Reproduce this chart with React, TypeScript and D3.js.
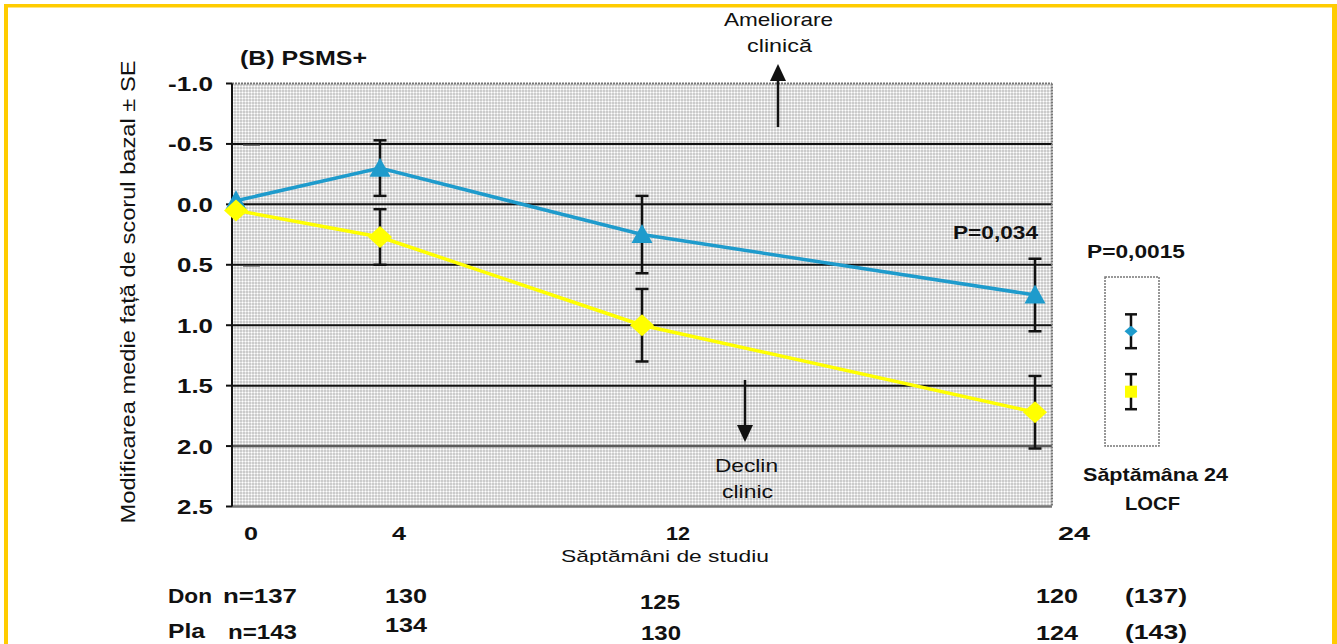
import React from "react";
import * as d3 from "d3";

// Study weeks and mean change from baseline (± SE)
const weeks = [0, 4, 12, 24];
const donMean = [-0.03, -0.3, 0.25, 0.75];
const donSE = [0, 0.23, 0.32, 0.3];
const plaMean = [0.05, 0.27, 1.0, 1.72];
const plaSE = [0, 0.23, 0.3, 0.3];

// Week 24 LOCF summary: [Don, Pla]
const locfMean = [1.05, 1.55];
const locfSE = [0.14, 0.145];

const yTicks = [-1.0, -0.5, 0.0, 0.5, 1.0, 1.5, 2.0, 2.5];
const yTickLabels = ["-1.0", "-0.5", "0.0", "0.5", "1.0", "1.5", "2.0", "2.5"];
const xTickLabels = ["0", "4", "12", "24"];
const baselineCaps = [-0.5, 0.5];

// Patients per visit
const donCounts = ["130", "125", "120"];
const plaCounts = ["134", "130", "124"];
const donLocfN = "(137)";
const plaLocfN = "(143)";

const W = 1337;
const H = 644;
const BLUE = "#1e9bcc";
const YELLOW = "#ffff00";
const FONT = "'Liberation Sans', Arial, sans-serif";

const PL = 232;
const PR = 1052;
const PT = 83.5;
const PB = 506.5;

const y = d3.scaleLinear().domain([-1, 2.5]).range([PT, PB]);
const x = d3.scaleLinear().domain([0, 4, 24]).range([236, 380, 1035]);
const xLabel = d3.scaleLinear().domain([0, 4, 12, 24]).range([251, 399, 678, 1074]);

type TProps = {
  x: number;
  y: number;
  w?: number;
  size?: number;
  bold?: boolean;
  anchor?: "start" | "middle" | "end";
  transform?: string;
  children: React.ReactNode;
};

function T({ x, y, w, size = 19, bold = false, anchor = "start", transform, children }: TProps) {
  return (
    <text
      x={x}
      y={y}
      fontFamily={FONT}
      fontSize={size}
      fontWeight={bold ? "bold" : "normal"}
      textAnchor={anchor}
      transform={transform}
      fill="#111"
      {...(w ? { textLength: w, lengthAdjust: "spacingAndGlyphs" } : {})}
    >
      {children}
    </text>
  );
}

function ErrorBar({ cx, mean, se, cap = 13 }: { cx: number; mean: number; se: number; cap?: number }) {
  const y0 = y(mean - se);
  const y1 = y(mean + se);
  return (
    <g stroke="#111" strokeWidth={2.5}>
      <line x1={cx} x2={cx} y1={y0} y2={y1} />
      <line x1={cx - cap / 2} x2={cx + cap / 2} y1={y0} y2={y0} />
      <line x1={cx - cap / 2} x2={cx + cap / 2} y1={y1} y2={y1} />
    </g>
  );
}

function triangle(cx: number, cy: number, w: number, h: number) {
  return `M${cx},${cy - h * 0.55}L${cx + w / 2},${cy + h * 0.45}L${cx - w / 2},${cy + h * 0.45}Z`;
}
function diamond(cx: number, cy: number, w: number, h: number) {
  return `M${cx},${cy - h / 2}L${cx + w / 2},${cy}L${cx},${cy + h / 2}L${cx - w / 2},${cy}Z`;
}

export default function App() {
  const line = d3
    .line<number>()
    .x((_, i) => x(weeks[i]))
    .y((d) => y(d));

  const locfX = 1131;
  const tickW = [45, 45, 36, 36, 36, 36, 36, 36];
  const xTickW = [14, 14, 24, 32];
  const donCountX = [406, 660, 1057];
  const plaCountX = [406, 661, 1057];

  return (
    <svg
      width={W}
      height={H}
      viewBox={`0 0 ${W} ${H}`}
      style={{ position: "absolute", left: 0, top: 0, background: "#fff" }}
    >
      <defs>
        <pattern id="stipple" width={3} height={3} patternUnits="userSpaceOnUse">
          <rect width={3} height={3} fill="#cbcbcb" />
          <rect x={2} width={1} height={3} fill="#e6e6e6" />
          <rect y={2} width={3} height={1} fill="#e6e6e6" />
          <rect x={2} y={2} width={1} height={1} fill="#ffffff" />
        </pattern>
      </defs>

      <rect width={W} height={H} fill="#fff" />

      {/* frame */}
      <g fill="#ffcc00">
        <rect x={4} y={4} width={1329} height={3.5} />
        <rect x={4} y={4} width={4} height={H - 4} />
        <rect x={1332} y={4} width={5} height={H - 4} />
      </g>

      {/* plot area */}
      <rect x={PL} y={PT} width={PR - PL} height={PB - PT} fill="url(#stipple)" />

      {/* horizontal grid */}
      {yTicks.map((t, i) => {
        const yy = y(t);
        if (i === 0) {
          return (
            <line key={t} x1={PL} x2={PR} y1={yy} y2={yy} stroke="#777" strokeWidth={2} strokeDasharray="2,1" />
          );
        }
        if (i === yTicks.length - 1) {
          return <line key={t} x1={PL} x2={PR} y1={yy} y2={yy} stroke="#777" strokeWidth={2.5} />;
        }
        const dark = t < 2;
        return (
          <line
            key={t}
            x1={PL}
            x2={PR}
            y1={yy}
            y2={yy}
            stroke={dark ? "#111" : "#5a5a5a"}
            strokeWidth={dark ? 2 : 2.5}
          />
        );
      })}
      <line x1={PR} x2={PR} y1={PT} y2={PB} stroke="#7a7a7a" strokeWidth={2} strokeDasharray="2,1" />

      {/* y axis */}
      <line x1={PL} x2={PL} y1={PT} y2={PB} stroke="#111" strokeWidth={2} />
      {yTicks.map((t) => (
        <line key={"t" + t} x1={PL - 6} x2={PL} y1={y(t)} y2={y(t)} stroke="#111" strokeWidth={2} />
      ))}
      {yTicks.map((t, i) => (
        <T key={"l" + t} x={213} y={y(t) + 7.5} w={tickW[i]} size={21} bold anchor="end">
          {yTickLabels[i]}
        </T>
      ))}

      {/* short marks beside baseline */}
      {baselineCaps.map((v) => (
        <line key={"c" + v} x1={243} x2={260} y1={y(v) + 1} y2={y(v) + 1} stroke="#444" strokeWidth={1.5} />
      ))}

      {/* error bars */}
      {weeks.map((w, i) =>
        donSE[i] > 0 ? <ErrorBar key={"de" + w} cx={x(w)} mean={donMean[i]} se={donSE[i]} /> : null
      )}
      {weeks.map((w, i) =>
        plaSE[i] > 0 ? <ErrorBar key={"pe" + w} cx={x(w)} mean={plaMean[i]} se={plaSE[i]} /> : null
      )}

      {/* series lines */}
      <path d={line(donMean) ?? ""} fill="none" stroke={BLUE} strokeWidth={3.5} />
      <path d={line(plaMean) ?? ""} fill="none" stroke={YELLOW} strokeWidth={3.5} />

      {/* markers */}
      {weeks.map((w, i) => (
        <path key={"dm" + w} d={triangle(x(w), y(donMean[i]), 21, 19)} fill={BLUE} />
      ))}
      {weeks.map((w, i) => (
        <path key={"pm" + w} d={diamond(x(w), y(plaMean[i]), 24, 22)} fill={YELLOW} />
      ))}

      {/* direction arrows */}
      <g stroke="#111" strokeWidth={2.5}>
        <line x1={778} x2={778} y1={127} y2={76} />
        <line x1={745} x2={745} y1={380} y2={430} />
      </g>
      <path d="M778,64L786,81L770,81Z" fill="#111" />
      <path d="M745,442L753,425L737,425Z" fill="#111" />

      <T x={724} y={26} w={109} size={19}>Ameliorare</T>
      <T x={747} y={52} w={65} size={19}>clinică</T>
      <T x={715} y={472} w={63} size={19}>Declin</T>
      <T x={722} y={498} w={51} size={19}>clinic</T>

      {/* title */}
      <T x={240} y={65} w={127} size={20} bold>(B) PSMS+</T>

      {/* p-values */}
      <T x={953} y={239} w={85} size={19} bold>P=0,034</T>
      <T x={1087} y={258} w={98} size={19} bold>P=0,0015</T>

      {/* LOCF panel */}
      <rect x={1105} y={277} width={54} height={169} fill="#fff" stroke="#777" strokeWidth={1.5} strokeDasharray="2,1" />
      <ErrorBar cx={locfX} mean={locfMean[0]} se={locfSE[0]} cap={12} />
      <ErrorBar cx={locfX} mean={locfMean[1]} se={locfSE[1]} cap={12} />
      <path d={diamond(locfX, y(locfMean[0]), 13, 11)} fill={BLUE} />
      <rect x={locfX - 6} y={y(locfMean[1]) - 6} width={12} height={12} fill={YELLOW} />
      <T x={1083} y={481} w={145} size={19} bold>Săptămâna 24</T>
      <T x={1125} y={510} w={55} size={19} bold>LOCF</T>

      {/* axis titles */}
      <T x={0} y={0} w={463} size={20} anchor="middle" transform="translate(135,292) rotate(-90)">
        Modificarea medie față de scorul bazal ± SE
      </T>
      {weeks.map((w, i) => (
        <T key={"xt" + w} x={xLabel(w)} y={540} w={xTickW[i]} size={19} bold anchor="middle">
          {xTickLabels[i]}
        </T>
      ))}
      <T x={561} y={562} w={208} size={17}>Săptămâni de studiu</T>

      {/* patient counts */}
      <T x={168} y={603} w={44} size={21} bold>Don</T>
      <T x={223} y={603} w={74} size={21} bold>n=137</T>
      <T x={168} y={638} w={37} size={21} bold>Pla</T>
      <T x={228} y={639} w={69} size={21} bold>n=143</T>
      {donCounts.map((c, i) => (
        <T key={"dc" + i} x={donCountX[i]} y={i === 1 ? 609 : 603} w={i === 1 ? 40 : 42} size={21} bold anchor="middle">
          {c}
        </T>
      ))}
      {plaCounts.map((c, i) => (
        <T key={"pc" + i} x={plaCountX[i]} y={i === 0 ? 632 : 640} w={i === 1 ? 40 : 42} size={21} bold anchor="middle">
          {c}
        </T>
      ))}
      <T x={1156} y={603} w={62} size={21} bold anchor="middle">{donLocfN}</T>
      <T x={1156} y={639} w={62} size={21} bold anchor="middle">{plaLocfN}</T>
    </svg>
  );
}
